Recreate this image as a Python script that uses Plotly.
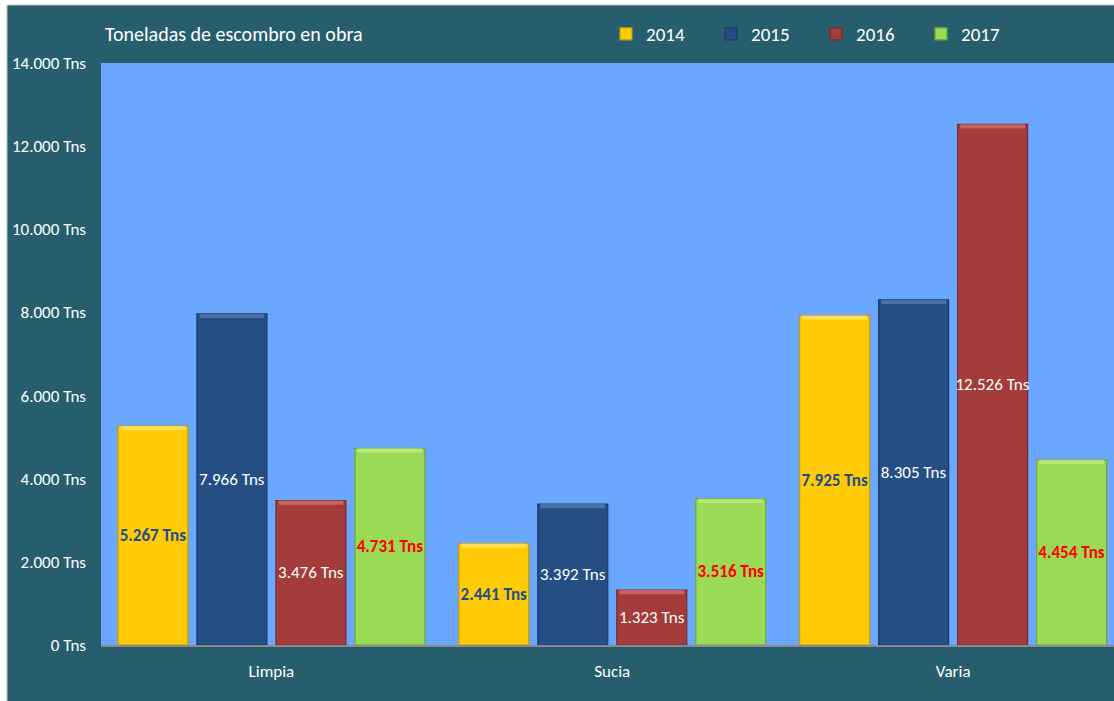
import plotly.graph_objects as go

# Tonnes of rubble per type and year
categories = ["Limpia", "Sucia", "Varia"]
years = ["2014", "2015", "2016", "2017"]
values_2014 = [5267, 2441, 7925]
values_2015 = [7966, 3392, 8305]
values_2016 = [3476, 1323, 12526]
values_2017 = [4731, 3516, 4454]
y_ticks = [0, 2000, 4000, 6000, 8000, 10000, 12000, 14000]
y_tick_labels = ["0 Tns", "2.000 Tns", "4.000 Tns", "6.000 Tns",
                 "8.000 Tns", "10.000 Tns", "12.000 Tns", "14.000 Tns"]

series = [values_2014, values_2015, values_2016, values_2017]
fills = ["#FFCB05", "#254F84", "#A33C3B", "#9BDA55"]
edges = ["#C89A00", "#1A3A63", "#7A2A2A", "#6FA63A"]
bevels = ["rgba(255,232,120,0.7)", "rgba(90,130,185,0.7)",
          "rgba(215,115,112,0.7)", "rgba(195,238,140,0.7)"]
label_colors = ["#1F4E8C", "#FFFFFF", "#FFFFFF", "#FF0000"]
label_weights = ["bold", "normal", "normal", "bold"]
BEVEL = 100  # depth of the lighter top bevel, in tonnes

FONT = "Carlito, Calibri, Lato, sans-serif"
TEAL = "#265E6D"

fig = go.Figure()
for yr, vals, fc, ec, bc, lc, lw in zip(years, series, fills, edges, bevels,
                                         label_colors, label_weights):
    fig.add_trace(go.Bar(
        name=yr,
        x=categories,
        y=vals,
        offsetgroup=yr,
        marker=dict(color=fc, line=dict(color=ec, width=1.2)),
        texttemplate="%{y:,d} Tns",
        textposition="inside",
        insidetextanchor="middle",
        textangle=0,
        constraintext="none",
        textfont=dict(family=FONT, size=17, color=lc, weight=lw),
        hovertemplate="%{x} " + yr + ": %{y:,d} Tns<extra></extra>",
    ))
    # soft lighter strip along the top edge of each bar
    fig.add_trace(go.Bar(
        x=categories,
        y=[BEVEL] * len(vals),
        base=[v - BEVEL for v in vals],
        offsetgroup=yr,
        width=0.19,
        marker=dict(color=bc, line=dict(width=0)),
        showlegend=False,
        hoverinfo="skip",
    ))

# Chart frame: teal panel, thin white border along the top and left edges
W, H = 1114, 701
L, R, T, B = 101, 0, 63, 56
pw, ph = W - L - R, H - T - B
fig.add_shape(
    type="rect", xref="paper", yref="paper", layer="above",
    x0=-L / pw, x1=1.05, y0=(H - B - 5) / ph, y1=(H - B) / ph,
    fillcolor="#FFFFFF", line=dict(width=0),
)
fig.add_shape(
    type="rect", xref="paper", yref="paper", layer="above",
    x0=-L / pw, x1=(7 - L) / pw, y0=-B / ph, y1=(H - B) / ph,
    fillcolor="#FFFFFF", line=dict(width=0),
)
fig.add_shape(
    type="line", xref="paper", yref="paper", layer="above",
    x0=(7 - L) / pw, x1=(7 - L) / pw, y0=-B / ph, y1=(H - B - 5) / ph,
    line=dict(color="#B8C6CA", width=1),
)
fig.add_shape(
    type="line", xref="paper", yref="paper", layer="above",
    x0=(7 - L) / pw, x1=1.05, y0=(H - B - 5) / ph, y1=(H - B - 5) / ph,
    line=dict(color="#B8C6CA", width=1),
)

fig.update_layout(
    width=W, height=H,
    margin=dict(l=L, r=R, t=T, b=B),
    paper_bgcolor=TEAL,
    plot_bgcolor="#6AA8FF",
    separators=",.",
    barmode="group",
    bargap=0.073,
    bargroupgap=0.114,
    font=dict(family=FONT, color="#FFFFFF"),
    title=dict(
        text="Toneladas de escombro en obra",
        x=105 / W, xanchor="left", xref="container",
        y=1 - 34 / H, yanchor="middle", yref="container",
        font=dict(family=FONT, size=20, color="#FFFFFF"),
    ),
    legend=dict(
        orientation="h",
        x=(606 - L) / pw, xanchor="left",
        y=(H - B - 34) / ph, yanchor="middle",
        bgcolor="rgba(0,0,0,0)",
        font=dict(family=FONT, size=19, color="#FFFFFF"),
        entrywidth=60, entrywidthmode="pixels",
        itemwidth=30,
        traceorder="normal",
    ),
    xaxis=dict(
        range=[-0.5, 2.472],
        showgrid=False,
        showline=True, linecolor="#8A8A8A", linewidth=2,
        ticks="", ticklabelstandoff=10,
        tickfont=dict(family=FONT, size=17, color="#FFFFFF"),
        fixedrange=True,
    ),
    yaxis=dict(
        range=[0, 14000],
        tickmode="array",
        tickvals=y_ticks,
        ticktext=y_tick_labels,
        showgrid=False, zeroline=False, showline=False,
        ticks="", ticklabelstandoff=14,
        tickfont=dict(family=FONT, size=17, color="#FFFFFF"),
        fixedrange=True,
    ),
)

fig.write_html("out.html")
